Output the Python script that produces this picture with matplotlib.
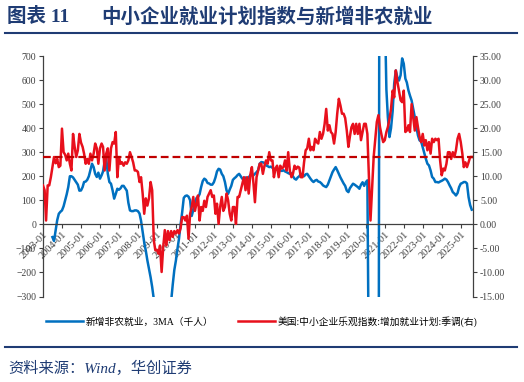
import numpy as np
import pandas as pd
import matplotlib
matplotlib.use("Agg")
import matplotlib.pyplot as plt
import matplotlib.dates as mdates
from matplotlib.lines import Line2D
from matplotlib.ticker import MultipleLocator, FormatStrFormatter

plt.rcParams['font.family'] = ['Liberation Serif', 'Noto Sans CJK SC', 'DejaVu Sans']

nan = np.nan
start_month = "2003-01"

# 新增非农就业 3MA, 千人 (left axis), one row per year
nfp_3ma = [
    nan, nan, nan, nan, nan, nan, -53, -69, -25, 17, 44, 52,             # 2003
    58, 75, 100, 125, 155, 200, 200, 195, 185, 176, 165, 140,            # 2004
    141, 155, 176, 178, 185, 200, 225, 252, 238, 210, 197, 215,          # 2005
    190, 204, 220, 262, 275, 210, 176, 169, 141, 107, 127, 148,          # 2006
    144, 150, 160, 160, 150, 140, 90, 58, 55, 55, 58, 58,                # 2007
    55, 45, 15, -30, -75, -110, -150, -185, -220, -260, -310, -450,      # 2008
    -600, -720, -700, -650, -560, -470, -420, -380, -350, -320, -250, -190,  # 2009
    -150, -100, -60, 0, 50, 110, 118, 120, 115, 100, 35, 60,             # 2010
    85, 110, 113, 125, 155, 180, 190, 185, 172, 170, 165, 165,           # 2011
    175, 195, 220, 231, 228, 210, 200, 176, 141, 127, 145, 160,          # 2012
    185, 192, 197, 205, 210, 200, 190, 185, 195, 188, 195, 204,          # 2013
    205, 204, 210, 217, 225, 252, 259, 258, 255, 245, 242, 238,          # 2014
    240, 235, 231, 231, 228, 226, 224, 222, 225, 220, 217, 213,          # 2015
    210, 212, 200, 190, 186, 195, 200, 210, 206, 200, 208, 210,          # 2016
    200, 190, 182, 176, 182, 185, 178, 176, 170, 162, 158, 155,          # 2017
    165, 183, 200, 217, 228, 238, 225, 210, 195, 183, 170, 160,          # 2018
    140, 134, 150, 160, 169, 165, 160, 155, 148, 165, 175, 160,          # 2019
    175, 183, -600, -7000, -6400, -4300, -3000, -2500, -1500, 3000, 2500, 1500,  # 2020
    900, 560, 446, 363, 400, 470, 585, 640, 610, 598, 620, 690,          # 2021
    668, 606, 590, 557, 535, 515, 481, 446, 404, 370, 349, 345,          # 2022
    320, 294, 273, 252, 245, 224, 197, 190, 176, 176, 174, 178,          # 2023
    181, 185, 190, 186, 176, 162, 150, 134, 128, 120, 130, 155,          # 2024
    169, 172, 176, 176, 170, 113, 80, 61,                                # 2025
]

# 美国:中小企业乐观指数:增加就业计划:季调 (right axis)
hiring_plans = [
    8.1, 7.1, 0.8, 8.1, 8.1, 9.8, 11.9, 14.0, 12.7, 13.6, 11.9, 12.2,    # 2003
    19.9, 15.0, 14.5, 13.3, 14.7, 12.6, 11.2, 18.8, 16.1, 14.0, 15.4, 18.8,  # 2004
    17.0, 16.1, 14.7, 12.6, 13.6, 12.6, 14.7, 13.3, 14.7, 16.8, 15.8, 12.6,  # 2005
    15.8, 16.8, 16.1, 11.2, 14.7, 15.8, 11.2, 15.8, 17.1, 16.8, 19.2, 9.8,   # 2006
    14.0, 12.6, 12.9, 12.2, 12.9, 12.6, 13.3, 15.0, 14.0, 12.9, 11.2, 11.2,  # 2007
    10.9, 8.8, 9.8, 6.4, 2.2, 5.4, 3.9, 5.4, 8.8, 7.1, -3.3, -5.4,      # 2008
    -5.3, -6.1, -4.4, -9.9, -4.8, -1.2, -4.4, -1.4, -3.3, -1.4, -2.6, -1.4,  # 2009
    -1.9, -1.2, -1.9, -0.8, 1.5, 1.5, 0.8, 1.8, -3.0, 2.2, 3.6, 5.7,    # 2010
    2.8, 4.3, 6.0, 0.8, 3.6, 2.8, 4.9, 3.6, 5.7, 6.4, 7.1, 5.7,         # 2011
    6.0, 2.2, 4.3, 0.1, 3.6, 5.7, 2.8, 3.6, 6.4, 5.0, 2.2, 0.8,         # 2012
    3.6, 3.6, 0.1, 5.7, 5.7, 7.1, 8.5, 9.8, 7.1, 9.8, 6.4, 10.2,        # 2013
    11.9, 8.5, 4.6, 9.8, 11.2, 12.6, 12.6, 10.5, 12.2, 13.3, 12.6, 15.0,  # 2014
    13.3, 13.3, 9.8, 11.6, 12.2, 9.8, 12.2, 11.6, 11.9, 13.3, 11.2, 15.0,  # 2015
    11.2, 9.8, 10.5, 12.2, 11.5, 12.0, 11.8, 9.8, 9.8, 12.9, 15.4, 15.8,   # 2016
    17.8, 15.4, 16.1, 15.4, 17.8, 17.1, 16.8, 19.2, 17.8, 18.8, 20.9, 24.0,  # 2017
    19.5, 20.6, 19.2, 18.8, 16.8, 19.2, 23.0, 26.1, 24.7, 23.0, 23.0, 22.1,  # 2018
    19.5, 16.1, 18.2, 20.2, 20.9, 18.8, 20.9, 18.8, 20.9, 17.5, 19.2, 20.9,  # 2019
    20.9, 18.8, 9.8, 0.8, 7.1, 14.0, 17.5, 21.3, 22.7, 20.2, 18.5, 17.1,   # 2020
    17.5, 19.2, 20.2, 21.9, 24.0, 27.8, 26.4, 32.0, 29.6, 27.8, 25.8, 25.4,  # 2021
    27.8, 19.2, 19.5, 20.6, 19.2, 25.0, 22.2, 19.5, 22.3, 20.2, 18.2, 17.1,  # 2022
    18.8, 16.4, 17.5, 15.4, 17.1, 14.7, 17.8, 17.1, 17.8, 17.5, 17.8, 13.3,  # 2023
    10.2, 11.6, 11.2, 12.6, 15.0, 15.0, 13.6, 15.0, 14.0, 15.4, 17.8, 18.8,  # 2024
    17.1, 14.7, 11.9, 12.9, 11.9, 12.9, 14.0, 14.0,                     # 2025
]
hiring_avg = 14.0

months = pd.date_range(start_month, periods=len(hiring_plans), freq="MS")

navy = "#1F3C74"
blue = "#0070C0"
red = "#E8101C"
darkred = "#C00000"
grey = "#404040"

fig = plt.figure(figsize=(5.24, 3.82), dpi=100)
ax = fig.add_axes([43 / 524, 85.5 / 382, 430 / 524, 240.5 / 382])
ax2 = ax.twinx()

ax.plot(months, nfp_3ma, color=blue, lw=1.8, label="新增非农就业，3MA（千人）")
ax2.plot(months, hiring_plans, color=red, lw=1.8, label="美国:中小企业乐观指数:增加就业计划:季调(右)")
ax2.axhline(hiring_avg, color=darkred, lw=1.6, dashes=(3.5, 1.8))

ax.set_xlim(pd.Timestamp("2003-01-01"), pd.Timestamp("2025-08-25"))
ax.set_ylim(-300, 700)
ax.yaxis.set_major_locator(MultipleLocator(100))
ax2.set_ylim(-15, 35)
ax2.yaxis.set_major_locator(MultipleLocator(5))
ax2.yaxis.set_major_formatter(FormatStrFormatter("%.2f"))

ax.xaxis.set_major_locator(mdates.YearLocator())
ax.xaxis.set_major_formatter(mdates.DateFormatter("%Y-%m"))

ax.spines["bottom"].set_position(("data", 0))
ax.spines["top"].set_visible(False)
ax.spines["right"].set_visible(False)
for s in ["top", "bottom", "left"]:
    ax2.spines[s].set_visible(False)
for s in ["left", "bottom"]:
    ax.spines[s].set_color(grey)
    ax.spines[s].set_linewidth(0.9)
ax2.spines["right"].set_color(grey)
ax2.spines["right"].set_linewidth(0.9)

ax.tick_params(axis="both", direction="out", length=3, width=0.8, color=grey,
               labelcolor=grey, labelsize=7, pad=2)
ax.tick_params(axis="x", labelrotation=45, labelsize=7.5, pad=1)
ax2.tick_params(axis="y", direction="out", length=3, width=0.8, color=grey,
                labelcolor=grey, labelsize=7, pad=2)

fig.canvas.draw()
for lab in ax.get_xticklabels():
    lab.set_ha("right")
    lab.set_va("top")
    lab.set_rotation_mode("anchor")

h1, l1 = ax.get_legend_handles_labels()
h2, l2 = ax2.get_legend_handles_labels()
fig.legend(h1 + h2, l1 + l2, loc="center", bbox_to_anchor=(0.5, 1 - 321.5 / 382),
           ncol=2, frameon=False, fontsize=7, handlelength=3.8,
           handletextpad=0.3, columnspacing=2.5)

fig.text(7 / 524, 1 - 17 / 382, "图表 11", fontsize=14, fontweight="bold",
         color=navy, va="center", ha="left")
fig.text(101 / 524, 1 - 17 / 382, "中小企业就业计划指数与新增非农就业", fontsize=14,
         fontweight="bold", color=navy, va="center", ha="left")
fig.add_artist(Line2D([5 / 524, 517 / 524], [1 - 33 / 382] * 2, color=navy, lw=1.5))
fig.add_artist(Line2D([5 / 524, 517 / 524], [1 - 347 / 382] * 2, color=navy, lw=1.5))
fig.text(8 / 524, 1 - 368 / 382, "资料来源：Wind，华创证券", fontsize=11,
         style="italic", color=navy, va="center", ha="left")

fig.savefig("out.png", dpi=100)
